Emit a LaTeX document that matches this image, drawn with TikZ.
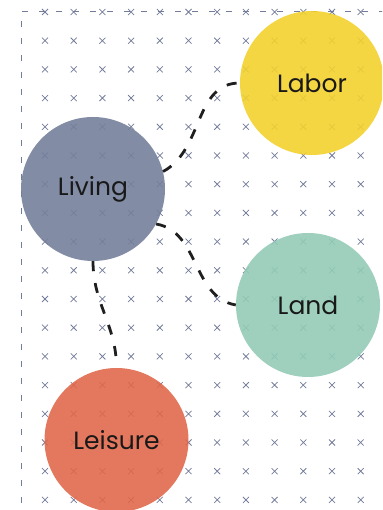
\documentclass[tikz,border=0pt]{standalone}
\usepackage{fontspec}
\setmainfont{Poppins}
\usepackage{xcolor}
\definecolor{livingfill}{HTML}{76809B}
\definecolor{laborfill}{HTML}{F3D12F}
\definecolor{landfill}{HTML}{93CBB6}
\definecolor{leisurefill}{HTML}{E0694C}
\definecolor{gridblue}{HTML}{737C9A}
\tikzstyle{topic}=[circle, inner sep=0pt, minimum size=144pt, fill opacity=0.9, text opacity=1, text=black!90, font=\fontsize{25}{29}\selectfont]
\newcommand{\topic}{\node[topic]}
\tikzstyle{link}=[draw=black!88, line width=2.8pt, dash pattern=on 10pt off 12pt]
\tikzstyle{gridmark}=[draw=gridblue, line width=0.75pt]
\tikzstyle{frameline}=[draw=gridblue, line width=0.9pt, dash pattern=on 6pt off 11pt]

\begin{document}
\begin{tikzpicture}[x=1pt,y=1pt]
\clip (0,0) rectangle (382,510);
% background grid of small crosses
\foreach \i in {0,...,11}{
	\foreach \j in {0,...,17}{
		\draw[gridmark] ({45+28.7*\i-3},{498-28.7*\j-3}) -- ++(6,6) ++(-6,0) -- ++(6,-6);
	}
}
\draw[frameline] (21,-10) |- (400,499);
\topic[fill=livingfill] (living) at (93,321) {Living};
\topic[fill=laborfill] (labor) at (312,427) {Labor};
\topic[fill=landfill] (land) at (308,205) {Land};
\topic[fill=leisurefill] (leisure) at (116.5,70) {Leisure};
\draw[link] (living.14) to[out=28,in=180] (labor.west);
\draw[link] (living.-29) to[out=-10,in=170] (land.west);
\draw[link] (living.south) to[out=-90,in=90] (leisure.north);
\end{tikzpicture}
\end{document}
